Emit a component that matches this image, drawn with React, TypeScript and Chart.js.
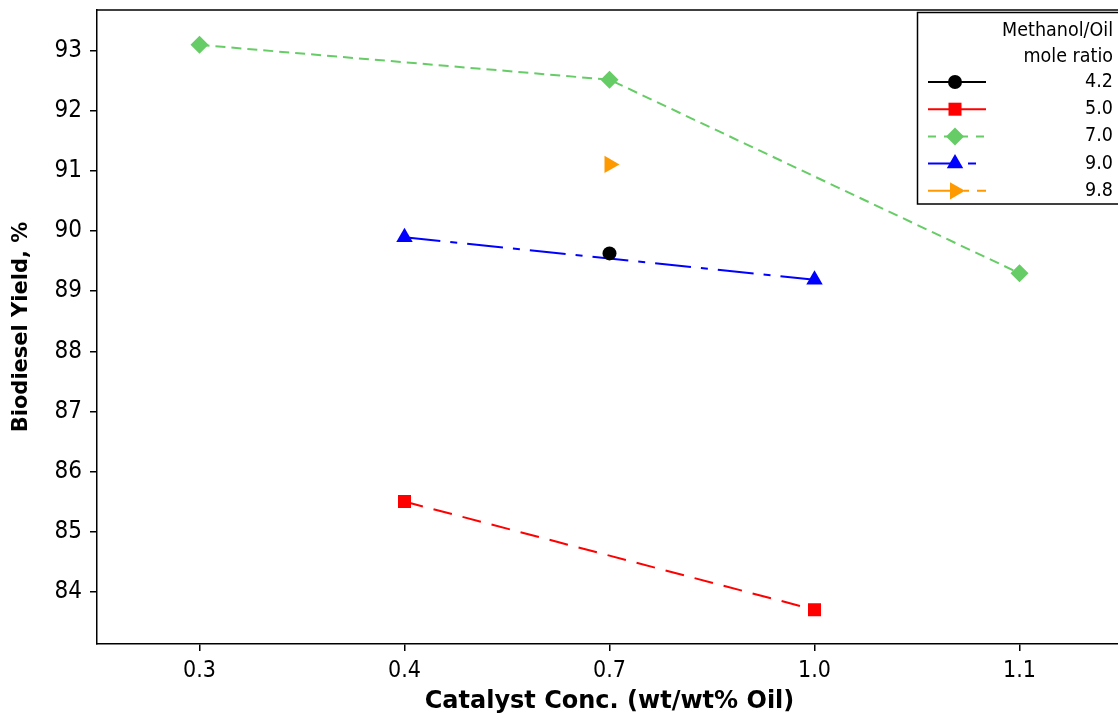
import React, { useEffect, useRef } from "react";
import { Chart, registerables } from "chart.js";

Chart.register(...registerables);

const categories = ["0.3", "0.4", "0.7", "1.0", "1.1"];
const ratio42 = [null, null, 89.63, null, null];
const ratio50 = [null, 85.5, null, 83.7, null];
const ratio70 = [93.1, null, 92.52, null, 89.3];
const ratio90 = [null, 89.9, null, 89.19, null];
const ratio98 = [null, null, 91.11, null, null];
const seriesLabels = ["4.2", "5.0", "7.0", "9.0", "9.8"];
const legendTitle = ["Methanol/Oil", "mole ratio"];
const yTickValues = [84, 85, 86, 87, 88, 89, 90, 91, 92, 93];
const xTitle = "Catalyst Conc. (wt/wt% Oil)";
const yTitle = "Biodiesel Yield, %";

const FONT = "'DejaVu Sans Condensed', 'DejaVu Sans', sans-serif";
const TITLE_FONT = "'DejaVu Sans', sans-serif";

const CANVAS_W = 1160;

type Marker = "circle" | "rect" | "rectRot" | "triangle" | "triangleRight";

function drawMarker(ctx: CanvasRenderingContext2D, m: Marker, x: number, y: number, r: number, color: string) {
  ctx.save();
  ctx.fillStyle = color;
  ctx.setLineDash([]);
  ctx.beginPath();
  if (m === "circle") {
    ctx.arc(x, y, r, 0, Math.PI * 2);
  } else if (m === "rect") {
    const s = Math.SQRT1_2 * r;
    ctx.rect(x - s, y - s, 2 * s, 2 * s);
  } else if (m === "rectRot") {
    ctx.moveTo(x, y - r);
    ctx.lineTo(x + r, y);
    ctx.lineTo(x, y + r);
    ctx.lineTo(x - r, y);
    ctx.closePath();
  } else if (m === "triangle") {
    for (let i = 0; i < 3; i++) {
      const a = -Math.PI / 2 + (i * 2 * Math.PI) / 3;
      const px = x + Math.cos(a) * r;
      const py = y + Math.sin(a) * r;
      if (i === 0) ctx.moveTo(px, py);
      else ctx.lineTo(px, py);
    }
    ctx.closePath();
  } else {
    for (let i = 0; i < 3; i++) {
      const a = (i * 2 * Math.PI) / 3;
      const px = x + Math.cos(a) * r;
      const py = y + Math.sin(a) * r;
      if (i === 0) ctx.moveTo(px, py);
      else ctx.lineTo(px, py);
    }
    ctx.closePath();
  }
  ctx.fill();
  ctx.restore();
}

const seriesStyles: { color: string; dash: number[]; marker: Marker; radius: number }[] = [
  { color: "#000000", dash: [], marker: "circle", radius: 7 },
  { color: "#ff0000", dash: [19, 11], marker: "rect", radius: 9.2 },
  { color: "#66cc66", dash: [10, 6], marker: "rectRot", radius: 9 },
  { color: "#0000ff", dash: [36, 10, 7, 10], marker: "triangle", radius: 9.5 },
  { color: "#ff9900", dash: [30, 8, 7, 8], marker: "triangleRight", radius: 10 },
];

const legendDash: number[][] = [[], [], [8, 8], [30, 10, 8, 10], [32, 4, 5, 8]];

export default function App() {
  const ref = useRef<HTMLCanvasElement | null>(null);

  useEffect(() => {
    document.body.style.margin = "0";
    document.documentElement.style.overflow = "hidden";
    document.body.style.overflow = "hidden";
    const canvas = ref.current;
    if (!canvas) return;

    const allData = [ratio42, ratio50, ratio70, ratio90, ratio98];
    const datasets = allData.map((d, i) => {
      const s = seriesStyles[i];
      return {
        label: seriesLabels[i],
        data: d,
        borderColor: s.color,
        backgroundColor: s.color,
        borderWidth: 2,
        borderDash: s.dash,
        spanGaps: true,
        pointStyle: s.marker === "triangleRight" ? "triangle" : s.marker,
        pointRotation: s.marker === "triangleRight" ? 90 : 0,
        pointRadius: s.radius,
        pointBorderWidth: 0,
        pointBackgroundColor: s.color,
        pointBorderColor: s.color,
        tension: 0,
      };
    });

    const framePlugin = {
      id: "frame",
      afterDraw(chart: any) {
        const ctx = chart.ctx as CanvasRenderingContext2D;
        const a = chart.chartArea;
        ctx.save();
        ctx.strokeStyle = "#000";
        ctx.lineWidth = 1.5;
        ctx.setLineDash([]);
        ctx.beginPath();
        ctx.moveTo(a.left, a.top);
        ctx.lineTo(a.right + 40, a.top);
        ctx.stroke();

        // Legend box
        const bx = 917.5, by = 12.5, bw = 230, bh = 191.5;
        ctx.fillStyle = "#ffffff";
        ctx.fillRect(bx, by, bw, bh);
        ctx.lineWidth = 1.5;
        ctx.strokeRect(bx, by, bw, bh);

        ctx.fillStyle = "#000";
        ctx.font = `19.5px ${FONT}`;
        ctx.textAlign = "right";
        ctx.textBaseline = "middle";
        ctx.fillText(legendTitle[0], 1113, 30.5);
        ctx.fillText(legendTitle[1], 1113, 56.5);

        seriesLabels.forEach((lab, i) => {
          const y = 82 + i * 27.2;
          const s = seriesStyles[i];
          ctx.save();
          ctx.strokeStyle = s.color;
          ctx.lineWidth = 2;
          ctx.setLineDash(legendDash[i]);
          ctx.beginPath();
          ctx.moveTo(928, y);
          ctx.lineTo(986, y);
          ctx.stroke();
          ctx.restore();
          drawMarker(ctx, s.marker, 955, y, s.radius, s.color);
          ctx.fillStyle = "#000";
          ctx.fillText(lab, 1113, y);
        });
        ctx.restore();
      },
    };

    const chart = new Chart(canvas, {
      type: "line",
      data: { labels: categories, datasets: datasets as any },
      options: {
        animation: false,
        responsive: false,
        layout: { padding: { top: 7, right: 38, bottom: 0, left: 0 } },
        plugins: { legend: { display: false }, tooltip: { enabled: false } },
        scales: {
          x: {
            type: "category",
            offset: true,
            grid: {
              display: true,
              drawOnChartArea: false,
              drawTicks: true,
              tickLength: 7,
              color: "#000",
              lineWidth: 1.5,
              offset: false,
            },
            border: { display: true, color: "#000", width: 1.5 },
            ticks: { color: "#000", font: { family: FONT, size: 23 }, padding: 6, maxRotation: 0 },
            title: {
              display: true,
              text: xTitle,
              color: "#000",
              font: { family: TITLE_FONT, size: 24, weight: "bold" },
              padding: { top: 0, bottom: 1 },
            },
            afterFit(scale: any) {
              scale.height = 73;
              scale.paddingLeft = 0;
              scale.paddingRight = 0;
              scale.paddingTop = 0;
              scale.paddingBottom = 0;
            },
          },
          y: {
            type: "linear",
            min: 83.13,
            max: 93.68,
            grid: {
              display: true,
              drawOnChartArea: false,
              drawTicks: true,
              tickLength: 7,
              color: "#000",
              lineWidth: 1.5,
            },
            border: { display: true, color: "#000", width: 1.5 },
            ticks: { color: "#000", font: { family: FONT, size: 24 }, padding: 8 },
            afterBuildTicks(scale: any) {
              scale.ticks = yTickValues.map((v) => ({ value: v }));
            },
            title: {
              display: true,
              text: yTitle,
              color: "#000",
              font: { family: TITLE_FONT, size: 21, weight: "bold" },
              padding: { top: 9, bottom: 0 },
            },
            afterFit(scale: any) {
              scale.width = 97;
              scale.paddingLeft = 0;
              scale.paddingRight = 0;
              scale.paddingTop = 0;
              scale.paddingBottom = 0;
            },
          },
        },
      },
      plugins: [framePlugin],
    });

    return () => {
      chart.destroy();
    };
  }, []);

  return (
    <div style={{ position: "fixed", left: 0, top: 0, width: 1118, height: 717, overflow: "hidden", background: "#fff" }}>
      <canvas ref={ref} width={CANVAS_W} height={717} style={{ display: "block", width: CANVAS_W, height: 717 }} />
    </div>
  );
}
